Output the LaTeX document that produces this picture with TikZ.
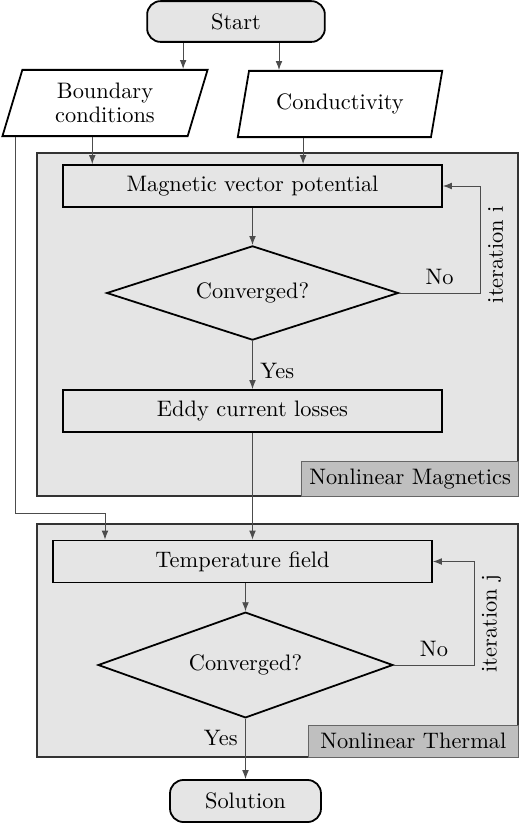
\documentclass[tikz,border=0pt]{standalone}
\usepackage{amsmath,amssymb}
\usepackage{tikz}
\usetikzlibrary{arrows.meta,positioning,shapes.geometric}

\begin{document}
\begin{tikzpicture}[
  x=0.0157cm, y=-0.0157cm,
  panel/.style={rectangle, draw=black!80, thick, fill=black!10, minimum width=7.55cm},
  tag/.style={rectangle, draw=black!60, fill=black!25, minimum width=3.30cm, minimum height=0.51cm, anchor=south east},
  term/.style={rectangle, rounded corners=6pt, draw=black, thick, fill=black!10, minimum width=2.79cm, minimum height=0.64cm},
  io/.style={trapezium, trapezium left angle=76, trapezium right angle=104, trapezium stretches=true, draw=black, thick, fill=white, minimum width=3.23cm, minimum height=1.04cm, align=center},
  proc/.style={rectangle, draw=black, thick, fill=black!10, minimum width=5.95cm, minimum height=0.66cm},
  dec/.style={diamond, aspect=3.1, draw=black, thick, fill=black!10, minimum width=4.58cm, minimum height=1.48cm, inner sep=0pt},
  arrow/.style={->, draw=black!70, >={Latex[length=4pt,width=3pt]}}
]
\useasboundingbox (0,0) rectangle (520,823);

% blocks
\node[panel, minimum height=5.39cm] (mag) at (277.5,324.5) {};
\node[tag] (magtag) at (mag.south east) {Nonlinear Magnetics};
\node[panel, minimum height=3.66cm] (therm) at (277.5,640.5) {};
\node[tag] (thermtag) at (therm.south east) {Nonlinear Thermal};

\node[term] (start) at (236,21.5) {Start};
\node[io] (bc) at (105,103) {Boundary\\[-1pt]conditions};
\node[io] (cond) at (340,104) {Conductivity};
\node[proc] (mvp) at (252.5,186) {Magnetic vector potential};
\node[dec] (conv1) at (252.5,293) {Converged?};
\node[proc] (eddy) at (252.5,411) {Eddy current losses};
\node[proc] (temp) at (242.5,561.5) {Temperature field};
\node[dec, aspect=2.8, minimum width=4.63cm, minimum height=1.66cm] (conv2) at (245.5,665) {Converged?};
\node[term, minimum width=2.37cm, minimum height=0.66cm] (sol) at (245.5,801) {Solution};
\coordinate (bend) at (105,513);

% connectors
\draw[arrow] ([xshift=-0.83cm]start.south) -- ([xshift=-0.83cm]start.south |- bc.north);
\draw[arrow] ([xshift=0.675cm]start.south) -- ([xshift=0.675cm]start.south |- cond.north);
\draw[arrow] ([xshift=-0.20cm]bc.south) -- ([xshift=-0.20cm]bc.south |- mvp.north);
\draw[arrow] ([xshift=-0.58cm]cond.south) -- ([xshift=-0.58cm]cond.south |- mvp.north);
\draw[arrow] (mvp.south) -- (conv1.north);
\draw[arrow] (conv1.east) -- node[above]{No} ++(1.27cm,0) |- node[pos=0.18, anchor=north, rotate=90]{iteration i} (mvp.east);
\draw[arrow] (conv1.south) -- node[right, pos=0.62]{Yes} (eddy.north);
\draw[arrow] (eddy.south) -- (eddy.south |- temp.north);
\draw[arrow] ([xshift=-1.40cm]bc.south) |- (bend) -- (bend |- temp.north);
\draw[arrow] (conv2.north |- temp.south) -- (conv2.north);
\draw[arrow] (conv2.east) -- node[above]{No} ++(1.26cm,0) |- node[pos=0.2, anchor=north, rotate=90]{iteration j} (temp.east);
\draw[arrow] (conv2.south) -- node[left, pos=0.32]{Yes} (sol.north);
\end{tikzpicture}
\end{document}
